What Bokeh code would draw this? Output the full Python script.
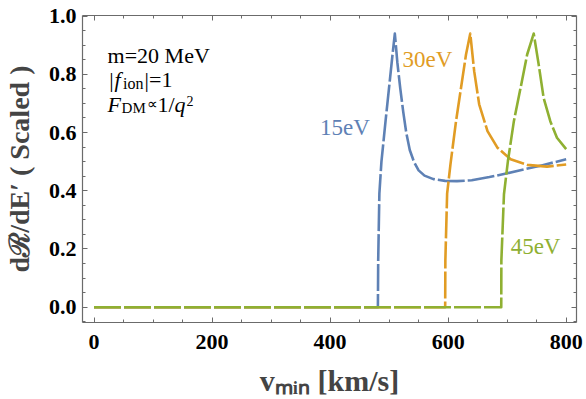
from bokeh.plotting import figure
from bokeh.models import Range1d, LinearAxis, FixedTicker, Label
from bokeh.embed import file_html
from bokeh.resources import INLINE

# ---------------- data ----------------
v_15eV = [0, 481, 481.5, 483.5, 487, 494, 499.7, 505.9, 509.7, 514, 519, 524, 529, 535,
          542, 550, 560, 575, 595, 615, 640, 670, 700, 730, 760, 800]
r_15eV = [0, 0, 0.16, 0.39, 0.50, 0.64, 0.75, 0.87, 0.94, 0.84, 0.75, 0.67, 0.60, 0.54,
          0.50, 0.47, 0.452, 0.44, 0.434, 0.433, 0.436, 0.447, 0.46, 0.474, 0.488, 0.508]

v_30eV = [0, 595, 595.3, 598.3, 603.9, 613.4, 621.8, 630.3, 637.5, 644.2, 652.6, 666.7,
          683.5, 705.9, 733.9, 767.6, 800]
r_30eV = [0, 0, 0.16, 0.39, 0.49, 0.639, 0.753, 0.868, 0.94, 0.81, 0.697, 0.605,
          0.548, 0.508, 0.489, 0.483, 0.49]

v_45eV = [0, 690, 690.2, 694.6, 701.3, 711.4, 722.7, 733.9, 745, 753.4, 761.8, 773.1,
          784.4, 800]
r_45eV = [0, 0, 0.16, 0.388, 0.502, 0.639, 0.753, 0.868, 0.94, 0.834, 0.719, 0.639,
          0.582, 0.543]

curve_names = ["15eV", "30eV", "45eV"]
curve_colors = ["#5E81B5", "#E19C24", "#8FB032"]

x_major_ticks = [0, 200, 400, 600, 800]
x_minor_ticks = list(range(0, 851, 50))
x_tick_labels = ["0", "200", "400", "600", "800"]
y_major_ticks = [0.0, 0.2, 0.4, 0.6, 0.8, 1.0]
y_minor_ticks = [round(0.05 * i, 2) for i in range(-1, 21)]
y_tick_labels = ["0.0", "0.2", "0.4", "0.6", "0.8", "1.0"]

x_title = "v\u2098\u1d62\u2099 [km/s]"
y_title = "d\u211b/dE\u2032 ( Scaled )"

# ---------------- figure ----------------
SERIF = "Liberation Serif"
FRAME = "#6b6b6b"

p = figure(width=586, height=399,
           x_range=Range1d(-19.5, 817.5), y_range=Range1d(-0.0525, 1.002),
           output_backend="svg", toolbar_location=None,
           min_border_left=78, min_border_right=10, min_border_top=15, min_border_bottom=77)
p.outline_line_color = None
p.xgrid.visible = False
p.ygrid.visible = False
p.background_fill_color = "white"
p.border_fill_color = "white"

p.add_layout(LinearAxis(), "above")
p.add_layout(LinearAxis(), "right")


def style_axis(ax, major, minor, labels, show):
    ax.ticker = FixedTicker(ticks=major, minor_ticks=minor)
    ax.axis_line_color = FRAME
    ax.axis_line_width = 1.2
    ax.major_tick_line_color = FRAME
    ax.minor_tick_line_color = FRAME
    ax.major_tick_line_width = 1
    ax.minor_tick_line_width = 1
    ax.major_tick_in = 5
    ax.major_tick_out = 0
    ax.minor_tick_in = 3
    ax.minor_tick_out = 0
    ax.major_label_text_font = SERIF
    ax.major_label_text_font_style = "bold"
    ax.major_label_text_font_size = "22px"
    ax.major_label_text_color = "black"
    if show:
        ax.major_label_overrides = {t: l for t, l in zip(major, labels)}
    else:
        ax.major_label_overrides = {t: "" for t in major}
        ax.major_label_standoff = 0


style_axis(p.below[0], x_major_ticks, x_minor_ticks, x_tick_labels, True)
style_axis(p.above[0], x_major_ticks, x_minor_ticks, x_tick_labels, False)
style_axis(p.left[0], y_major_ticks, y_minor_ticks, y_tick_labels, True)
style_axis(p.right[0], y_major_ticks, y_minor_ticks, y_tick_labels, False)

p.below[0].major_label_standoff = 12
p.below[0].axis_label = x_title
p.below[0].axis_label_text_font = SERIF
p.below[0].axis_label_text_font_style = "bold"
p.below[0].axis_label_text_font_size = "30px"
p.below[0].axis_label_standoff = 12

p.left[0].major_label_standoff = 6
p.left[0].axis_label = y_title
p.left[0].axis_label_text_font = SERIF
p.left[0].axis_label_text_font_style = "bold"
p.left[0].axis_label_text_font_size = "28px"
p.left[0].axis_label_standoff = 11

# ---------------- curves ----------------
for xs, ys, col in zip([v_15eV, v_30eV, v_45eV], [r_15eV, r_30eV, r_45eV], curve_colors):
    p.line(xs, ys, line_color=col, line_width=2.6, line_dash="27 3", line_cap="butt",
           line_join="round")

# curve labels
label_pos = [(383, 0.619), (522.7, 0.852), (705.9, 0.208)]
for name, col, (lx, ly) in zip(curve_names, curve_colors, label_pos):
    p.add_layout(Label(x=lx, y=ly, text=name, text_color=col, text_font=SERIF,
                       text_font_size="23px", text_baseline="alphabetic"))

# ---------------- annotation block ----------------
AX, AY = 23.0, 0.863
pieces = [
    ("m=20 MeV", 0, 0, "22px", "normal"),
    ("|", 1.7, -23.3, "22px", "normal"),
    ("f", 7, -23.3, "22px", "italic"),
    ("ion", 15.5, -27.7, "16px", "normal"),
    ("|=1", 37, -23.3, "22px", "normal"),
    ("F", 0, -48.3, "22px", "italic"),
    ("DM", 14, -52, "15px", "normal"),
    ("\u221d", 39, -48.3, "15px", "normal"),
    ("1/", 50, -48.3, "22px", "normal"),
    ("q", 67, -48.3, "22px", "italic"),
    ("2", 79, -45.5, "14px", "normal"),
]
for t, dx, dy, fs, st in pieces:
    p.add_layout(Label(x=AX, y=AY, x_offset=dx, y_offset=dy, text=t, text_font=SERIF,
                       text_font_size=fs, text_font_style=st, text_color="black",
                       text_baseline="alphabetic"))

open("out.html", "w").write(file_html(p, INLINE))
